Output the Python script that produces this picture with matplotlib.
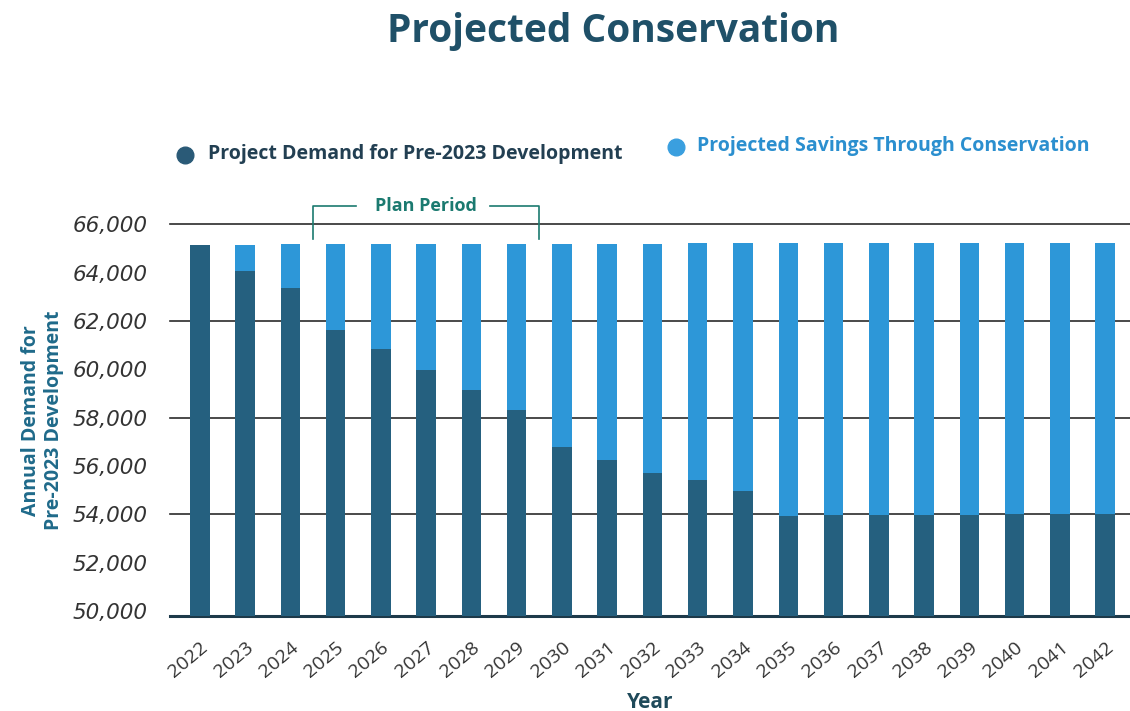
import matplotlib.pyplot as plt
from matplotlib.lines import Line2D
import numpy as np

years = [str(y) for y in range(2022, 2043)]
demand = [65150, 64060, 63370, 61620, 60830, 59970, 59140, 58320, 56790, 56250,
          55730, 55440, 54950, 53950, 53960, 53970, 53980, 53990, 54000, 54010, 54020]
savings = [0, 1100, 1800, 3550, 4350, 5210, 6050, 6870, 8410, 8950,
           9470, 9770, 10260, 11260, 11260, 11250, 11240, 11240, 11230, 11230, 11220]
y_ticks = list(range(50000, 66001, 2000))
grid_levels = [54000, 58000, 62000, 66000]
plan_start, plan_end = "2025", "2029"

dark = "#25607f"
light = "#2d97d8"
title_col = "#1f5068"

fig = plt.figure(figsize=(11.3, 7.11), dpi=100)
ax = fig.add_axes([0.1504, 0.1336, 0.8496, 0.551])

x = np.arange(len(years))
ax.bar(x, demand, width=0.43, color=dark, zorder=3)
ax.bar(x, savings, width=0.43, bottom=demand, color=light, zorder=3)

for lvl in grid_levels:
    ax.axhline(lvl, color="#2b2b2b", lw=1.2, zorder=1, clip_on=False)

ax.set_ylim(49800, 66000)
ax.set_xlim(-0.66, len(years) - 0.45)

ax.set_yticks(y_ticks)
ax.set_yticklabels([f"{v:,}" for v in y_ticks], fontstyle="italic",
                   fontsize=15.5, color="#333333", family="DejaVu Sans")
ax.set_xticks(x)
ax.set_xticklabels(years, rotation=40, ha="right", rotation_mode="anchor",
                   fontsize=14, color="#333333", family="Open Sans")
ax.tick_params(axis="y", length=0, pad=16)
ax.tick_params(axis="x", length=0, pad=16)

for s in ["top", "right", "left"]:
    ax.spines[s].set_visible(False)
ax.spines["bottom"].set_color("#1d3a4a")
ax.spines["bottom"].set_linewidth(2.2)

ax.set_ylabel("Annual Demand for\nPre-2023 Development", color="#1f6a8a",
              fontsize=14, fontweight="bold", family="Open Sans", labelpad=6)
ax.set_xlabel("Year", color="#1f4a5a", fontsize=15, fontweight="bold",
              family="Open Sans", labelpad=8)

# plan period bracket above the bars
x0 = years.index(plan_start) - 0.5
x1 = years.index(plan_end) + 0.5
xm = (x0 + x1) / 2
top, low = 66750, 65400
bc = "#1b7a70"
ax.plot([x0, x0, xm - 1.55], [low, top, top], color=bc, lw=1.2, clip_on=False)
ax.plot([xm + 1.4, x1, x1], [top, top, low], color=bc, lw=1.2, clip_on=False)
ax.text(xm, top, "Plan Period", color=bc, fontsize=13, fontweight="bold",
        family="Open Sans", ha="center", va="center")

fig.text(0.543, 0.955, "Projected Conservation", color=title_col, fontsize=28,
         fontweight="bold", family="Open Sans", ha="center", va="center")

# legend
fig.add_artist(Line2D([0.164], [0.782], marker="o", ms=12, color="#2a5a77",
                      transform=fig.transFigure))
fig.text(0.184, 0.784, "Project Demand for Pre-2023 Development", color="#223f52",
         fontsize=14, fontweight="bold", family="Open Sans", va="center")
fig.add_artist(Line2D([0.598], [0.793], marker="o", ms=12, color="#3a9fdf",
                      transform=fig.transFigure))
fig.text(0.617, 0.795, "Projected Savings Through Conservation", color="#2b8fcf",
         fontsize=14, fontweight="bold", family="Open Sans", va="center")

fig.savefig("out.png", dpi=100, facecolor="white")
